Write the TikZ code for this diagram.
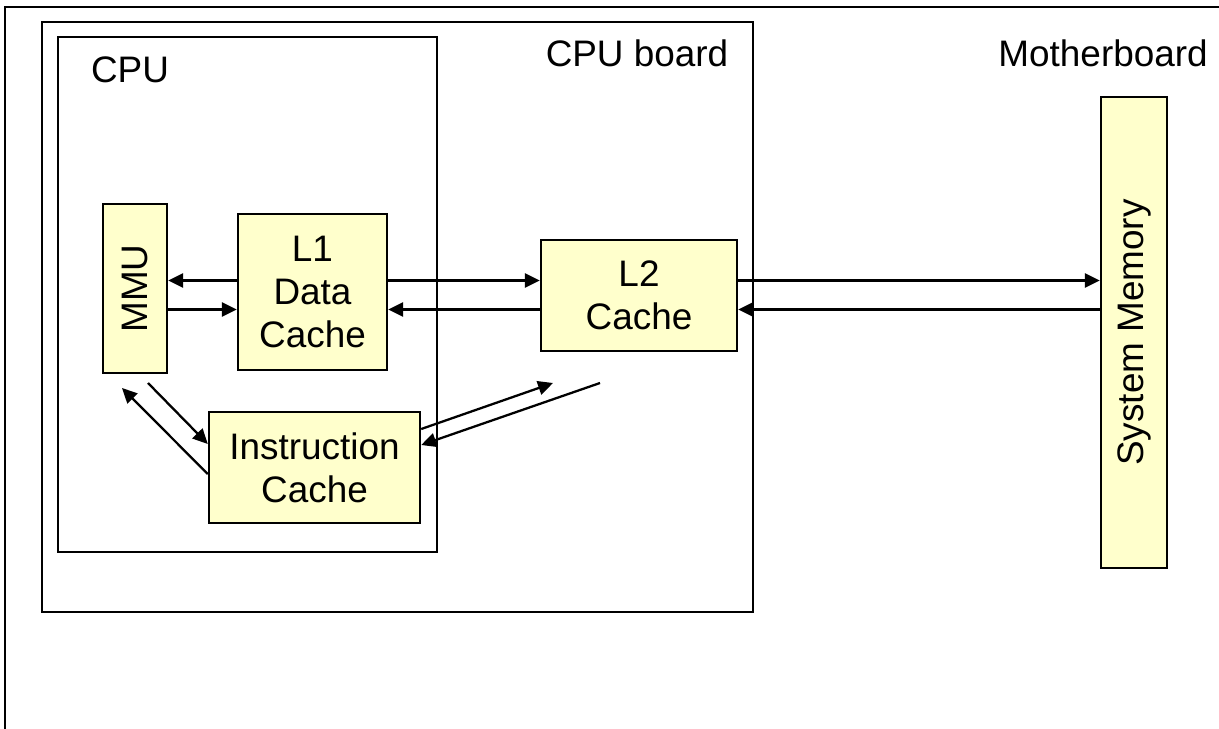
\documentclass[tikz,border=0pt]{standalone}
\usepackage{fontspec}
\setmainfont{Liberation Sans}
\usepackage{xcolor}
\usetikzlibrary{arrows.meta}
\definecolor{unit-fill}{RGB}{255,255,204}
\tikzset{
    unit-box/.style = {draw=black, fill=unit-fill, line width=1.4pt, rectangle, align=center, inner sep=0pt, font=\fontsize{21}{24.5}\selectfont},
    board-box/.style = {draw=black, line width=1.4pt, rectangle, inner sep=0pt},
    board-title/.style = {font=\fontsize{21}{24.5}\selectfont, inner sep=0pt},
    bus-arrow/.style = {line width=1.3pt, -{Triangle[length=8.5pt,width=8pt]}},
}

\begin{document}
\begin{tikzpicture}[x=0.02cm, y=-0.02cm]
\useasboundingbox (0,0) rectangle (1219,729);
\draw[line width=1.4pt] (1219,7) -- (5,7) -- (5,729);

\node[board-box, minimum width=14.22cm, minimum height=11.8cm] (board) at (397.5,317) {};
\node[board-box, minimum width=7.58cm, minimum height=10.3cm] (cpu) at (247.5,294.5) {};
\node[board-title, anchor=base] (cpu-title) at (130,83) {CPU};
\node[board-title, anchor=base] (board-title) at (637,67) {CPU board};
\node[board-title, anchor=base east] (mother-title) at (1208,67) {Motherboard};

\node[unit-box, minimum width=1.28cm, minimum height=3.38cm] (mmu) at (135,288.5) {\rotatebox{90}{MMU}};
\node[unit-box, minimum width=2.98cm, minimum height=3.12cm] (l1) at (312.5,292) {L1\\Data\\Cache};
\node[unit-box, minimum width=3.92cm, minimum height=2.22cm] (l2) at (639,295.5) {L2\\Cache};
\node[unit-box, minimum width=4.22cm, minimum height=2.22cm] (icache) at (314.5,467.5) {Instruction\\Cache};
\node[unit-box, minimum width=1.32cm, minimum height=9.42cm] (sysmem) at (1134,332.5) {\rotatebox{90}{System Memory}};

\coordinate (row-a) at (0,280.5);
\coordinate (row-b) at (0,309.5);
\coordinate (mmu-out) at (148,383);
\coordinate (mmu-in) at (122,388);
\coordinate (l2-in) at (553,383);
\coordinate (l2-out) at (600,383);

\draw[bus-arrow] (l1.west |- row-a) -- (mmu.east |- row-a);
\draw[bus-arrow] (mmu.east |- row-b) -- (l1.west |- row-b);
\draw[bus-arrow] (l1.east |- row-a) -- (l2.west |- row-a);
\draw[bus-arrow] (l2.west |- row-b) -- (l1.east |- row-b);
\draw[bus-arrow] (l2.east |- row-a) -- (sysmem.west |- row-a);
\draw[bus-arrow] (sysmem.west |- row-b) -- (l2.east |- row-b);

\draw[bus-arrow] (mmu-out) -- ([yshift=0.47cm]icache.west);
\draw[bus-arrow] ([yshift=-0.13cm]icache.west) -- (mmu-in);
\draw[bus-arrow] ([yshift=0.77cm]icache.east) -- (l2-in);
\draw[bus-arrow] (l2-out) -- ([yshift=0.45cm]icache.east);
\end{tikzpicture}
\end{document}
